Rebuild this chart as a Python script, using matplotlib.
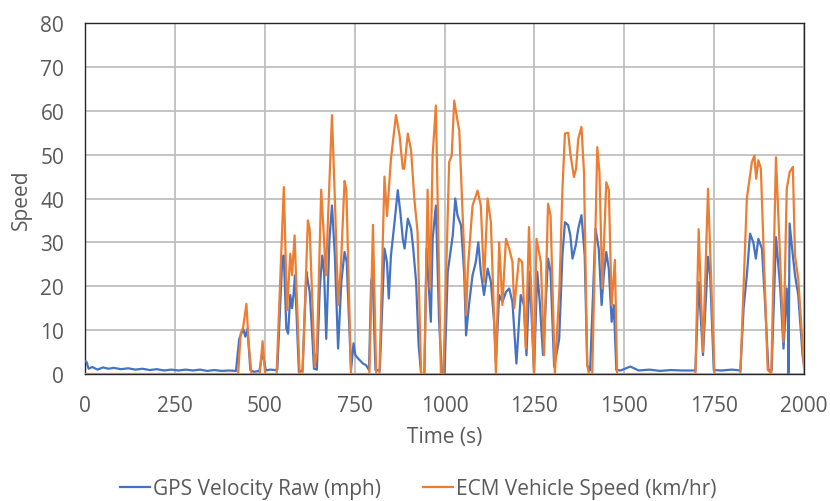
import matplotlib
matplotlib.use("Agg")
import matplotlib.pyplot as plt

# ECM Vehicle Speed (km/hr) keypoints
ecm_t = [0, 426, 433, 440, 449, 455, 463, 486, 494, 501, 533, 540, 553, 562, 571, 576, 583, 597, 605,
         620, 625, 639, 645, 657, 664, 670, 687, 695, 704, 712, 722, 727, 740, 791, 801, 810, 819,
         833, 840, 851, 865, 875, 884, 888, 898, 907, 916, 925, 935, 944, 953, 960, 967, 976, 990, 997,
         1013, 1020, 1027, 1036, 1041, 1055, 1060, 1065, 1078, 1092, 1101, 1110, 1120, 1129, 1143,
         1152, 1161, 1171, 1180, 1189, 1194, 1207, 1216, 1226, 1235, 1249, 1256, 1268, 1277, 1288, 1295, 1307,
         1320, 1328, 1335, 1344, 1350, 1360, 1366, 1372, 1381, 1388, 1397, 1402, 1411,
         1425, 1431, 1439, 1450, 1457, 1465, 1474, 1480, 1698, 1707, 1719, 1733, 1751, 1823,
         1841, 1855, 1862, 1867, 1873, 1880, 1899, 1909, 1922, 1943, 1952, 1960, 1969, 1975, 1984, 2000]
ecm_v = [0, 0, 9.2, 10.7, 16, 7.3, 0, 0, 7.5, 0, 0, 15, 42.6, 14.5, 27.4, 22.5, 31.6, 0, 0,
         35, 33, 1.6, 5, 42, 32, 22.5, 59, 40, 15.7, 25, 44, 42, 0, 0, 34, 0, 0,
         45, 36, 49, 59, 54.4, 46.8, 46.8, 54.8, 51, 40, 32.4, 0, 0, 42, 19.5, 49.8, 61.2, 0, 0,
         48.3, 49.8, 62.3, 57.8, 55.5, 27, 13.4, 24, 38.4, 41.8, 38.4, 21, 40, 34.6, 0,
         30, 15.7, 30.8, 28.6, 25.5, 15, 26.3, 25.5, 5.8, 33.5, 0, 30.8, 25.5, 4.3, 38.8, 36.2, 0,
         20, 42, 54.8, 55, 50.2, 44.9, 46.8, 53.6, 56.3, 46, 2, 0, 0,
         51.7, 46, 19.5, 43.7, 42, 15.7, 26, 0, 0, 33, 5, 42.2, 0, 0,
         40, 48.3, 49.8, 44.5, 48.7, 46.8, 1, 0, 49.4, 7.3, 42.2, 46, 47.2, 27, 21.7, 1.6]

# GPS Velocity Raw (mph) keypoints
gps_t = [0, 4, 10, 20, 35, 50, 65, 80, 100, 120, 140, 160, 180, 200, 220, 240, 260, 280, 300, 320,
         340, 360, 380, 400, 420, 429, 440, 446, 452, 460, 470, 485, 494, 503, 515, 528, 535,
         549, 553, 560, 565, 571, 576, 580, 584, 595, 605, 616, 620, 625, 630, 637, 645,
         653, 660, 665, 671, 680, 687, 695, 704, 713, 722, 728, 740, 747, 752, 760, 773, 782, 790,
         796, 800, 808, 820, 833, 840, 845, 851, 861, 870, 877, 884, 889, 898, 907, 913, 921, 928, 935, 944,
         950, 957, 962, 967, 976, 985, 993, 1000, 1009, 1023, 1030, 1036, 1046, 1055, 1060, 1068,
         1078, 1087, 1094, 1101, 1110, 1120, 1129, 1138, 1143,
         1152, 1161, 1171, 1180, 1189, 1200, 1212, 1221, 1228, 1237, 1249, 1258, 1265, 1274, 1288, 1295, 1305,
         1319, 1328, 1335, 1344, 1350, 1356, 1365, 1372, 1381, 1390, 1397, 1405,
         1420, 1429, 1437, 1443, 1450, 1457, 1465, 1471, 1478, 1490, 1517, 1540, 1570, 1600, 1630, 1660, 1698,
         1707, 1719, 1733, 1739, 1749, 1770, 1800, 1823,
         1832, 1841, 1850, 1859, 1866, 1873, 1883, 1892, 1901, 1910, 1922, 1934, 1943, 1952, 1956, 1957,
         1960, 1966, 1975, 1984, 1996, 2000]
gps_v = [3.0, 2.8, 1.2, 1.6, 1.0, 1.5, 1.2, 1.4, 1.1, 1.3, 1.0, 1.2, 0.9, 1.1, 0.8, 1.0, 0.8, 1.0, 0.8, 1.0,
         0.7, 0.9, 0.7, 0.8, 0.7, 8, 10.3, 8.5, 10.3, 0.9, 0.5, 0.7, 5, 0.8, 1.0, 0.9, 1.0,
         26.7, 27, 10.4, 9.2, 18, 15, 18, 22.5, 0.5, 0.8, 23.3, 21, 18.7, 11.9, 1.2, 1.0,
         19.5, 27, 23.3, 8, 30.8, 38.4, 27, 5.8, 21, 27.8, 25.5, 0.9, 7, 4.3, 3.5, 2.4, 2, 0.9,
         21, 22.5, 0.9, 0.8, 28.6, 25.5, 17.2, 27, 34.6, 41.9, 37, 30.8, 28.6, 35.4, 33.1, 28.6, 21, 6.6, 0, 0,
         28.6, 18.7, 11.9, 30.8, 38.4, 11.9, 0, 0, 23.3, 31.6, 40, 36.2, 33.9, 22.5, 8.8, 15.7,
         22.5, 25.5, 30, 23.3, 18, 24, 21, 11.9, 2.8,
         18, 16.4, 18.7, 19.5, 16.4, 2.4, 18, 15.7, 4.3, 23.3, 0.4, 23.3, 16.4, 4.3, 26.3, 23.3, 1.6,
         8, 27, 34.6, 33.9, 31.6, 26.3, 29.3, 33.1, 36.2, 27, 2, 0.8,
         33.1, 28.6, 15.7, 22.5, 27.8, 24, 11.9, 15.7, 0.9, 0.8, 1.7, 0.8, 1.0, 0.7, 0.9, 0.8, 0.8,
         21, 4.3, 26.7, 22.5, 0.9, 0.8, 1.0, 0.8,
         15, 22.5, 32, 30, 26.3, 30.8, 28.6, 15.7, 0.9, 0.8, 31.2, 19.5, 5.8, 19.5, 10, 0,
         34.3, 29.3, 22.5, 18, 4.3, 2]

series_names = ["GPS Velocity Raw (mph)", "ECM Vehicle Speed (km/hr)"]
x_ticks = [0, 250, 500, 750, 1000, 1250, 1500, 1750, 2000]
y_ticks = [0, 10, 20, 30, 40, 50, 60, 70, 80]

plt.rcParams['font.family'] = ['Open Sans', 'DejaVu Sans']

fig = plt.figure(figsize=(8.3, 5.02), dpi=100)
ax = fig.add_axes([85 / 830, 1 - 375 / 502, 719 / 830, 351 / 502])

ax.plot(gps_t, gps_v, color='#4472C4', lw=1.6, label=series_names[0], zorder=3)
ax.plot(ecm_t, ecm_v, color='#ED7D31', lw=1.6, label=series_names[1], zorder=4)

ax.set_xlim(0, 2000)
ax.set_ylim(0, 80)
ax.set_xticks(x_ticks)
ax.set_yticks(y_ticks)
ax.grid(True, color='#BFBFBF', lw=1.3)
ax.set_axisbelow(True)
for s in ax.spines.values():
    s.set_color('#262626')
    s.set_linewidth(1.0)
ax.tick_params(axis='x', length=0, labelsize=15, colors='#595959', pad=15)
ax.tick_params(axis='y', length=0, labelsize=15, colors='#595959', pad=15)
ax.set_xlabel('Time (s)', fontsize=15, color='#595959')
ax.set_ylabel('Speed', fontsize=15, color='#595959')
ax.xaxis.set_label_coords(0.5, -(427 - 375) / 351)
ax.yaxis.set_label_coords((32 - 85) / 719, 0.5)

leg = fig.legend(loc='center', bbox_to_anchor=(418 / 830, 1 - 490 / 502), ncol=2, frameon=False,
                 fontsize=15, handlelength=1.45, handletextpad=0.15, columnspacing=2.0,
                 borderaxespad=0, borderpad=0)
for t in leg.get_texts():
    t.set_color('#595959')

fig.savefig('out.png', dpi=100, facecolor='white')
